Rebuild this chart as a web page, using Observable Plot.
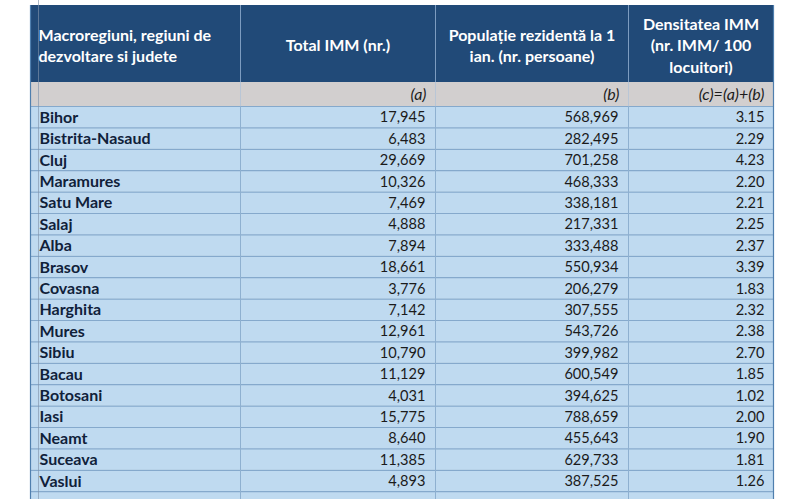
<!DOCTYPE html>
<html>
<head>
<meta charset="utf-8">
<script src="https://cdn.jsdelivr.net/npm/d3@7"></script>
<script src="https://cdn.jsdelivr.net/npm/@observablehq/plot@0.6"></script>
<style>
  html, body { margin: 0; padding: 0; background: #ffffff; }
  #chart svg { display: block; }
</style>
</head>
<body>
<div id="chart"></div>
<script>
// ---- Data ----
const counties = ["Bihor", "Bistrita-Nasaud", "Cluj", "Maramures", "Satu Mare", "Salaj",
  "Alba", "Brasov", "Covasna", "Harghita", "Mures", "Sibiu",
  "Bacau", "Botosani", "Iasi", "Neamt", "Suceava", "Vaslui"];
const totalIMM = [17945, 6483, 29669, 10326, 7469, 4888,
  7894, 18661, 3776, 7142, 12961, 10790,
  11129, 4031, 15775, 8640, 11385, 4893];
const population = [568969, 282495, 701258, 468333, 338181, 217331,
  333488, 550934, 206279, 307555, 543726, 399982,
  600549, 394625, 788659, 455643, 629733, 387525];
const density = [3.15, 2.29, 4.23, 2.20, 2.21, 2.25,
  2.37, 3.39, 1.83, 2.32, 2.38, 2.70,
  1.85, 1.02, 2.00, 1.90, 1.81, 1.26];
const headerLabels = ["Macroregiuni, regiuni de\ndezvoltare si judete", "Total IMM (nr.)",
  "Populație rezidentă la 1\nian. (nr. persoane)", "Densitatea IMM\n(nr. IMM/ 100\nlocuitori)"];
const subLabels = ["", "(a)", "(b)", "(c)=(a)+(b)"];

// ---- Layout (table geometry, pixels) ----
const colEdges = [30, 240, 435, 628, 773];
const headerTop = 5, headerBottom = 82, subBottom = 106, rowH = 21.4;
const nRows = counties.length + 1; // one more (empty) row cut off at the bottom

const rows = d3.range(nRows).map(i => ({
  i,
  y1: subBottom + i * rowH,
  y2: subBottom + (i + 1) * rowH,
  yc: subBottom + (i + 0.5) * rowH
}));
const dataRows = counties.map((c, i) => ({
  county: c, total: totalIMM[i], pop: population[i], dens: density[i], yc: rows[i].yc + 0.5
}));
const cols = d3.range(4).map(j => ({j, x1: colEdges[j], x2: colEdges[j + 1]}));
const headerCells = cols.map(c => ({...c, label: headerLabels[c.j], sub: subLabels[c.j]}));

const font = "Lato, 'Open Sans', sans-serif";
const fsBold = 16;
const fsNum = 14.6;
const fmtInt = d3.format(",");
const fmtDec = d3.format(".2f");

const plot = Plot.plot({
  width: 800,
  height: 499,
  margin: 0,
  style: {fontFamily: font, background: "#ffffff"},
  x: {type: "linear", domain: [0, 800], range: [0, 800], axis: null},
  y: {type: "linear", domain: [0, 499], range: [0, 499], axis: null},
  marks: [
    // header background
    Plot.rect([0], {x1: colEdges[0], x2: colEdges[4], y1: headerTop, y2: headerBottom, fill: "#214a78"}),
    // sub-header gray band
    Plot.rect([0], {x1: colEdges[0], x2: colEdges[4], y1: headerBottom, y2: subBottom, fill: "#d2cfcf"}),
    // data rows
    Plot.rect(rows, {x1: colEdges[0], x2: colEdges[4], y1: "y1", y2: "y2", fill: "#bfdaf0"}),
    Plot.ruleY(rows, {y: "y1", x1: colEdges[0], x2: colEdges[4], stroke: "#85a9cc", strokeWidth: 1.2}),
    // column separators
    Plot.ruleX(colEdges.slice(1, 4), {x: d => d, y1: headerTop, y2: headerBottom, stroke: "#7d9cc0", strokeWidth: 1}),
    Plot.ruleX(colEdges.slice(1, 4), {x: d => d, y1: headerBottom, y2: subBottom, stroke: "#b9c6d6", strokeWidth: 1}),
    Plot.ruleX(colEdges.slice(1, 4), {x: d => d, y1: subBottom, y2: 499, stroke: "#8eb0d0", strokeWidth: 1}),
    // table outer edges
    Plot.ruleX([colEdges[0], colEdges[4]], {x: d => d, y1: headerTop, y2: 499, stroke: "#4f7fae", strokeWidth: 1.2}),
    // thin vertical text-boundary line
    Plot.ruleX([38], {x: d => d, y1: 0, y2: 499, stroke: "#7f93aa", strokeWidth: 0.8, strokeOpacity: 0.8}),
    // header texts
    Plot.text(headerCells.filter(d => d.j === 0), {
      x: d => d.x1 + 8, y: (headerTop + headerBottom) / 2 + 0.5, text: "label",
      textAnchor: "start", fill: "#ffffff", fontWeight: "bold", fontSize: fsBold, lineHeight: 1.34
    }),
    Plot.text(headerCells.filter(d => d.j > 0), {
      x: d => (d.x1 + d.x2) / 2, y: (headerTop + headerBottom) / 2 + 0.5, text: "label",
      textAnchor: "middle", fill: "#ffffff", fontWeight: "bold", fontSize: fsBold, lineHeight: 1.34
    }),
    // sub-header italic labels
    Plot.text(headerCells.filter(d => d.j > 0), {
      x: d => d.x2 - 9, y: (headerBottom + subBottom) / 2 + 0.5, text: "sub",
      textAnchor: "end", fill: "#1b1b1b", fontStyle: "italic", fontSize: fsBold
    }),
    // county names
    Plot.text(dataRows, {
      x: colEdges[0] + 9, y: "yc", text: "county", textAnchor: "start",
      fill: "#10213a", fontWeight: "bold", fontSize: fsBold
    }),
    // numbers
    Plot.text(dataRows, {
      x: colEdges[2] - 10, y: "yc", text: d => fmtInt(d.total), textAnchor: "end",
      fill: "#1b1b1b", fontSize: fsNum
    }),
    Plot.text(dataRows, {
      x: colEdges[3] - 10, y: "yc", text: d => fmtInt(d.pop), textAnchor: "end",
      fill: "#1b1b1b", fontSize: fsNum
    }),
    Plot.text(dataRows, {
      x: colEdges[4] - 9, y: "yc", text: d => fmtDec(d.dens), textAnchor: "end",
      fill: "#1b1b1b", fontSize: fsNum
    })
  ]
});
document.getElementById("chart").appendChild(plot);
</script>
</body>
</html>
